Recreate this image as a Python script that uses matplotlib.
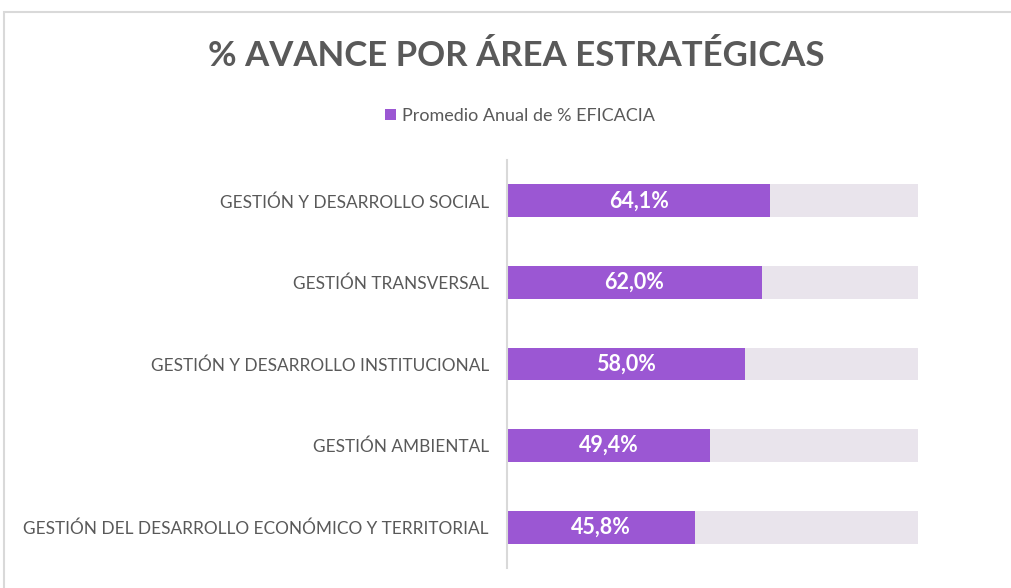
import matplotlib
matplotlib.use("Agg")
import matplotlib.pyplot as plt
from matplotlib.patches import Rectangle

categories = [
    "GESTIÓN Y DESARROLLO SOCIAL",
    "GESTIÓN TRANSVERSAL",
    "GESTIÓN Y DESARROLLO INSTITUCIONAL",
    "GESTIÓN AMBIENTAL",
    "GESTIÓN DEL DESARROLLO ECONÓMICO Y TERRITORIAL",
]
values = [64.1, 62.0, 58.0, 49.4, 45.8]
total = [100, 100, 100, 100, 100]
value_labels = ["64,1%", "62,0%", "58,0%", "49,4%", "45,8%"]

FONT = ["Lato", "DejaVu Sans"]
purple = "#9B57D3"
bg = "#E9E4EC"
grey = "#595959"

fig = plt.figure(figsize=(10.12, 5.88), dpi=100)
fig.patch.set_facecolor("white")

# outer frame
fig.add_artist(Rectangle((4/1012, -0.01), 1.02, (588-12)/588 + 0.01,
                         transform=fig.transFigure, fill=False,
                         edgecolor="#D9D9D9", linewidth=1.5))

ax = fig.add_axes([507/1012, (588-568)/588, 411/1012, (568-160)/588])
pos = list(range(len(categories)))
ax.barh(pos, total, height=0.4, color=bg, zorder=1)
ax.barh(pos, values, height=0.4, color=purple, zorder=2,
        label="Promedio Anual de % EFICACIA")
for p, v, lab in zip(pos, values, value_labels):
    ax.text(v / 2, p, lab, ha="center", va="center", color="white",
            fontsize=15.5, fontweight="bold", family=FONT, zorder=3)

ax.set_xlim(0, 100)
ax.set_ylim(len(categories) - 0.5, -0.5)
ax.set_yticks(pos)
ax.set_yticklabels(categories, family=FONT, fontsize=12.4, color=grey)
ax.tick_params(axis="y", length=0, pad=13)
ax.set_xticks([])
for s in ["top", "right", "bottom"]:
    ax.spines[s].set_visible(False)
ax.spines["left"].set_color("#D9D9D9")
ax.spines["left"].set_linewidth(1.5)

fig.text(516/1012, 1 - 56/588, "% AVANCE POR ÁREA ESTRATÉGICAS",
         ha="center", va="center", fontsize=25, fontweight="bold",
         color=grey, family=FONT)

handles, labels = ax.get_legend_handles_labels()
fig.legend(handles, labels, loc="center", bbox_to_anchor=(520/1012, 1 - 116/588),
           frameon=False, prop={"family": FONT, "size": 13},
           labelcolor=grey, handlelength=0.6, handleheight=0.6,
           handletextpad=0.3)

fig.savefig("out.png", dpi=100)
